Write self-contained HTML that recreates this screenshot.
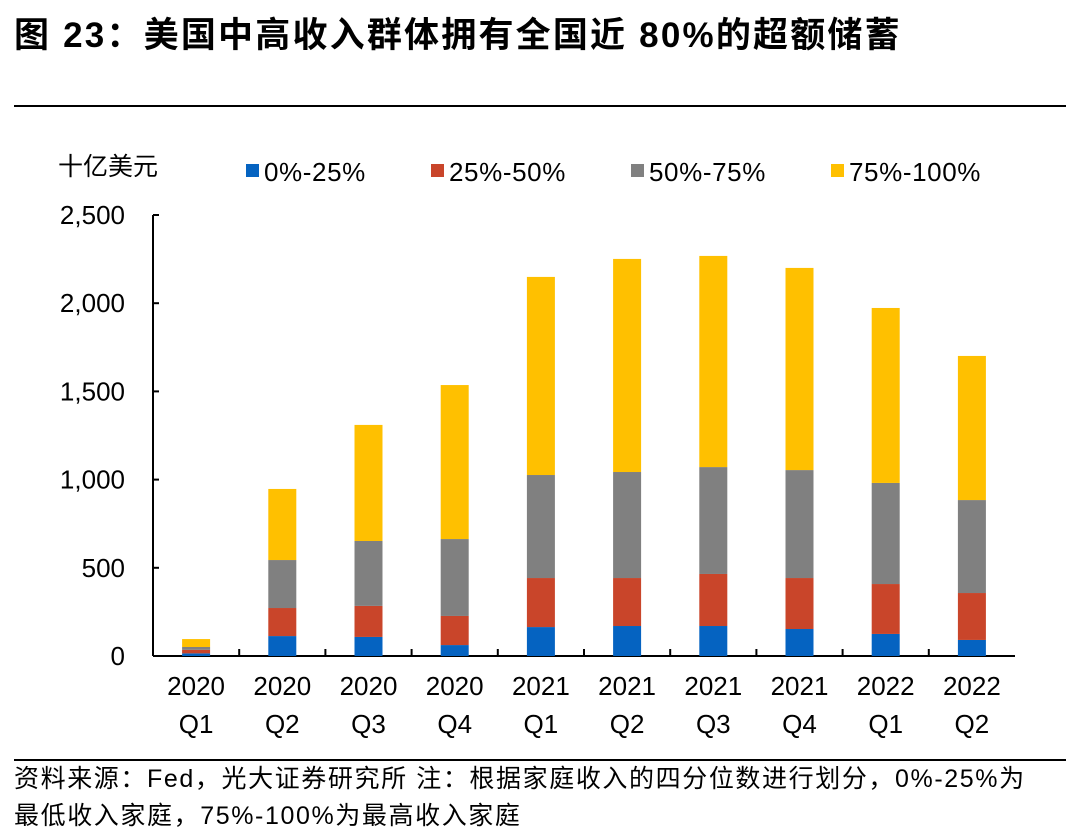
<!DOCTYPE html>
<html><head><meta charset="utf-8"><style>
body{margin:0;width:1080px;height:839px;background:#fff;overflow:hidden;font-family:"Liberation Sans","Noto Sans CJK SC",sans-serif;position:relative}
.t{position:absolute;color:#000;white-space:nowrap}
</style></head><body>
<div class="t" style="left:14px;top:7px;font-size:35px;font-weight:bold;letter-spacing:2.2px">图 23：美国中高收入群体拥有全国近 80%的超额储蓄</div>
<div style="position:absolute;left:14px;top:105px;width:1052px;height:2px;background:#000"></div>
<svg id="c" width="1080" height="839" style="position:absolute;left:0;top:0"></svg>
<div style="position:absolute;left:14px;top:759px;width:1052px;height:2px;background:#000"></div>
<div class="t" style="left:14px;top:761px;font-size:25px;line-height:37px;letter-spacing:1.6px">资料来源：Fed，光大证券研究所 注：根据家庭收入的四分位数进行划分，0%-25%为<br>最低收入家庭，75%-100%为最高收入家庭</div>
<script>
const categories=["2020|Q1","2020|Q2","2020|Q3","2020|Q4","2021|Q1","2021|Q2","2021|Q3","2021|Q4","2022|Q1","2022|Q2"];
const seriesNames=["0%-25%","25%-50%","50%-75%","75%-100%"];
const colors=["#0563c1","#c9452a","#808080","#ffc000"];
const q1=[15,113,108,62,164,170,170,153,125,91];
const q2=[20,159,176,165,278,272,295,289,283,266];
const q3=[16,272,368,436,584,601,606,612,573,527];
const q4=[45,403,658,873,1123,1208,1197,1146,992,817];
const yTicks=[0,500,1000,1500,2000,2500];
const series=[q1,q2,q3,q4];
const NS="http://www.w3.org/2000/svg";
const svg=document.getElementById('c');
const x0=153,x1=1015,y0=656,yTop=215,ymax=2500;
const y=v=>y0-(v/ymax)*(y0-yTop);
const band=(x1-x0)/categories.length;
const xc=i=>x0+band*(i+0.5);
function mk(t,a){const e=document.createElementNS(NS,t);for(const k in a)e.setAttribute(k,a[k]);svg.appendChild(e);return e;}
let ax=mk('line',{x1:x0,y1:yTop,x2:x0,y2:y0,stroke:'#000','stroke-width':2});

let bx=mk('line',{x1:x0,y1:y0,x2:x1,y2:y0,stroke:'#000','stroke-width':2});

yTicks.forEach(v=>{
 let tk=mk('line',{x1:x0,y1:y(v),x2:x0+6,y2:y(v),stroke:'#000','stroke-width':2});
 
 let t=mk('text',{x:x0-28,y:y(v)+9,'text-anchor':'end','font-size':26,'font-family':'Liberation Sans, Noto Sans CJK SC, sans-serif'});
 t.textContent=v.toLocaleString('en-US');
 
});
for(let i=1;i<categories.length;i++){
 let tk=mk('line',{x1:x0+band*i,y1:y0,x2:x0+band*i,y2:y0-7,stroke:'#000','stroke-width':2});
 
}
categories.forEach((c,i)=>{
 const p=c.split('|');
 p.forEach((s,j)=>{
  let t=mk('text',{x:xc(i),y:695+j*38,'text-anchor':'middle','font-size':26,'font-family':'Liberation Sans, Noto Sans CJK SC, sans-serif'});
  t.textContent=s;
  
 });
 let cum=0;
 series.forEach((s,k)=>{
  const v=s[i];
  let r=mk('rect',{x:xc(i)-14,y:y(cum+v),width:28,height:y(cum)-y(cum+v),fill:colors[k]});
  
  
  cum+=v;
 });
});
let u=mk('text',{x:58,y:175,'font-size':25,'font-family':'Liberation Sans, Noto Sans CJK SC, sans-serif'});
u.textContent='十亿美元';

const lx=[246,431,631,831];
seriesNames.forEach((n,k)=>{
 let r=mk('rect',{x:lx[k],y:164,width:13,height:13,fill:colors[k]});
 
 let t=mk('text',{x:lx[k]+18,y:181,'font-size':26,'letter-spacing':0.6,'font-family':'Liberation Sans, Noto Sans CJK SC, sans-serif'});
 t.textContent=n;
 
});
</script>
</body></html>
